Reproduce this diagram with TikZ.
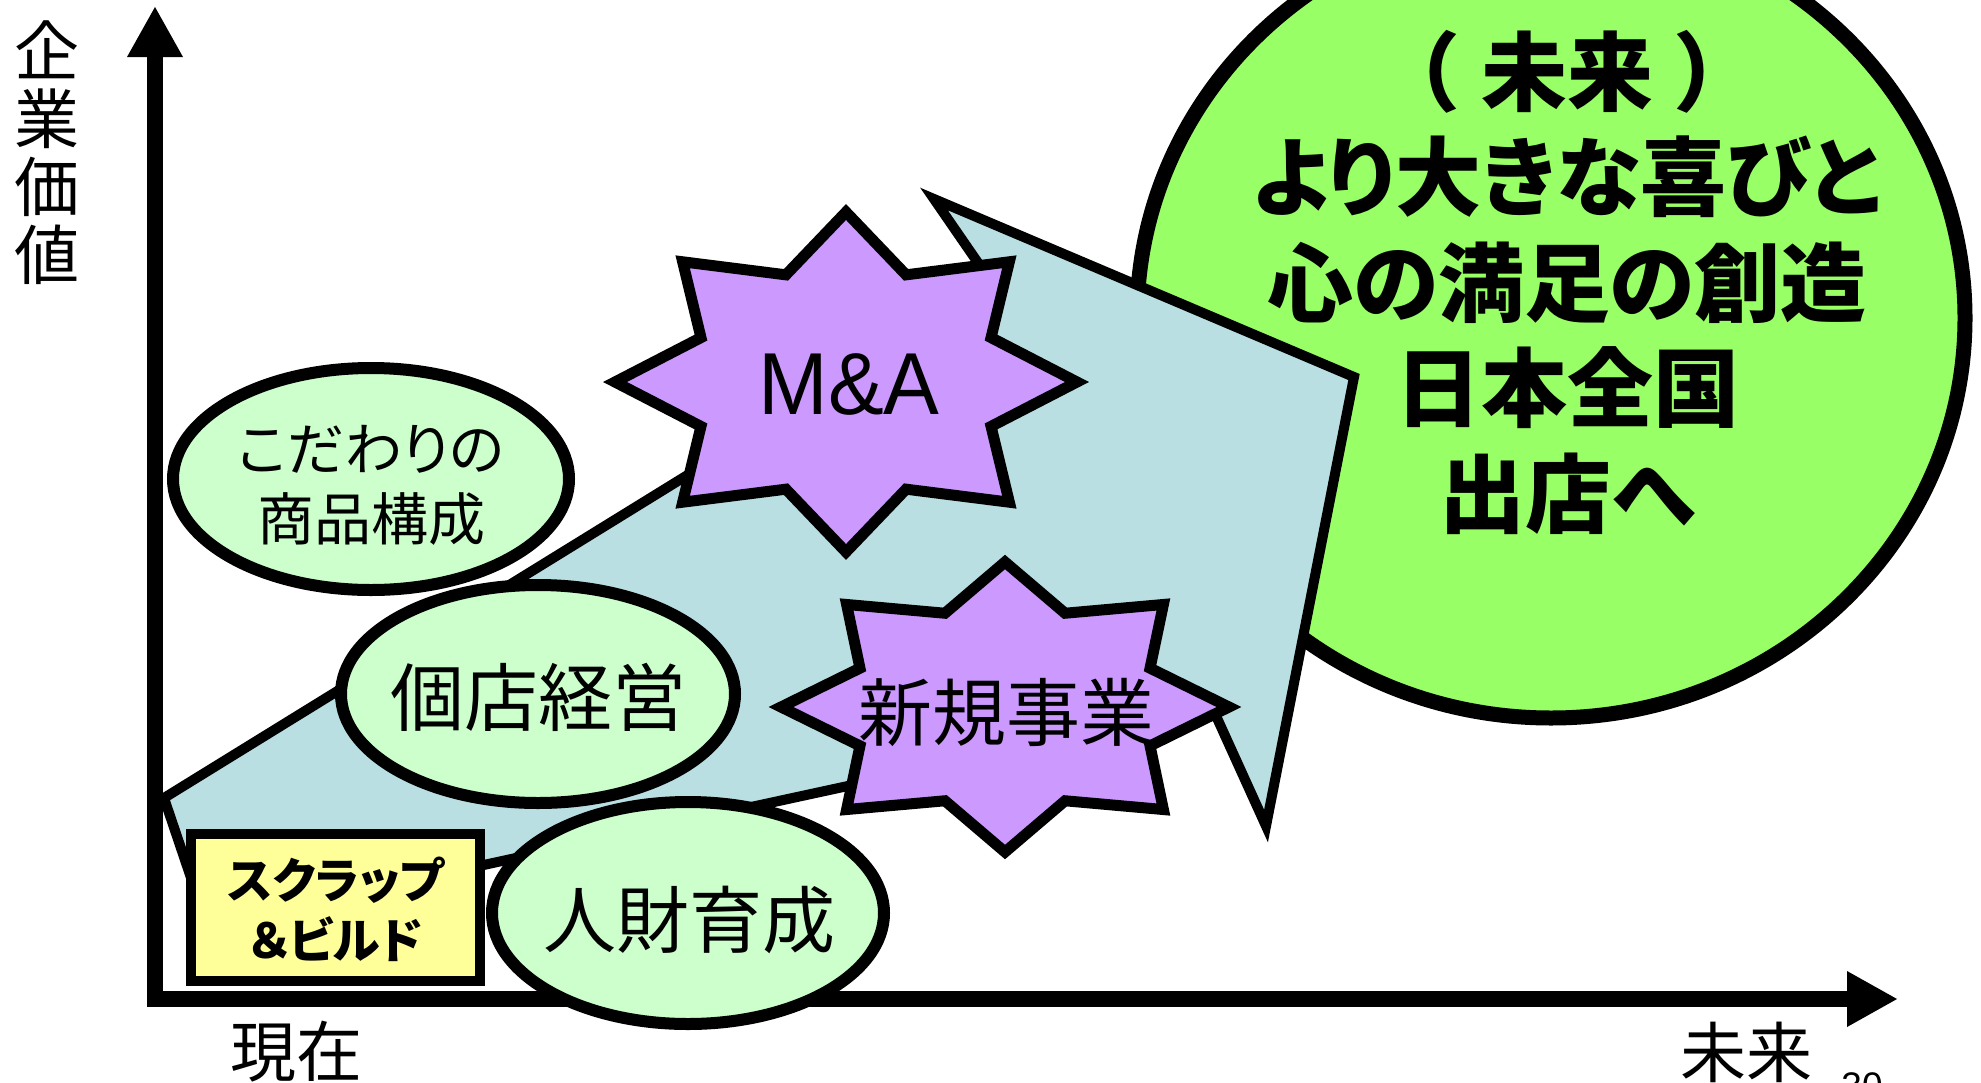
\documentclass[tikz,border=0pt]{standalone}
\usepackage{fontspec}
\newfontfamily\jp{Noto Sans CJK JP}
\newfontfamily\jpp[RawFeature=+palt]{Noto Sans CJK JP}
\newfontfamily\lat{Liberation Sans}
\usetikzlibrary{shapes.geometric,arrows.meta}
\definecolor{arrowblue}{HTML}{B9DFE3}
\definecolor{lightgreen}{HTML}{CCFFCC}
\definecolor{brightgreen}{HTML}{99FF66}
\definecolor{starpurple}{HTML}{CC99FF}
\definecolor{boxyellow}{HTML}{FFFF99}
\begin{document}
\begin{tikzpicture}[x=0.5pt,y=-0.5pt,
  axisline/.style={line width=8pt, line join=miter},
  bluearrow/.style={draw=black, fill=arrowblue, line width=5pt, line join=miter},
  greenell/.style={ellipse, draw=black, fill=lightgreen, line width=6pt, inner sep=0pt},
  starsty/.style={draw=black, fill=starpurple, line width=5.5pt, line join=miter},
  futurecirc/.style={ellipse, draw=black, fill=brightgreen, line width=7.5pt, inner sep=0pt},
  sbbox/.style={rectangle, draw=black, fill=boxyellow, line width=5pt, inner sep=0pt},
  lbl/.style={inner sep=0pt, align=center}
]
\useasboundingbox (0,0) rectangle (1981,1082);

% axes
\coordinate (ytip) at (155,6);
\coordinate (origin) at (155,999);
\coordinate (xtip) at (1898,999);
\draw[axisline, {Triangle[length=25.5pt,width=26pt]}-{Triangle[length=25.5pt,width=26pt]}] (ytip) -- (origin) -- (xtip);

\node[lbl, font=\jp\fontsize{32.5pt}{34pt}\selectfont] (yl) at (47,153) {企\\業\\価\\値};
\node[lbl, font=\jp\fontsize{33pt}{36pt}\selectfont] (now) at (296,1052) {現在};
\node[lbl, font=\jp\fontsize{33pt}{36pt}\selectfont] (fut) at (1746,1052) {未来};
\node[lbl, anchor=north, font=\lat\fontsize{18.5pt}{20pt}\selectfont] (pagenum) at (1862,1072) {30};

% future circle
\node[futurecirc, minimum width=414pt, minimum height=400pt] (future) at (1551,318) {};
\node[lbl, font=\jpp\bfseries\fontsize{43pt}{52.75pt}\selectfont] (futuretext) at (1567,282)
  {（\hspace{12pt}未来\hspace{12pt}）\\より大きな喜びと\\心の満足の創造\\日本全国\\出店へ};

% big arrow
\draw[bluearrow] (164,798) -- (207,925) -- (1212,707) -- (1266,826) -- (1354,377) -- (934,199) -- (994,286) -- cycle;

% ellipses
\node[greenell, minimum width=198pt, minimum height=111pt] (koda) at (371,479) {};
\node[lbl, font=\jpp\fontsize{28.5pt}{35pt}\selectfont] (kodat) at (371,485) {こだわりの\\商品構成};
\node[greenell, minimum width=197pt, minimum height=109pt] (koten) at (538,694) {};
\node[lbl, font=\jp\fontsize{37pt}{40pt}\selectfont] (kotent) at (538,697) {個店経営};
\node[greenell, minimum width=196pt, minimum height=111pt] (jinzai) at (688,913) {};
\node[lbl, font=\jp\fontsize{36.5pt}{40pt}\selectfont] (jinzait) at (689,920) {人財育成};

% scrap & build box
\node[sbbox, minimum width=144.5pt, minimum height=73.5pt] (sb) at (335,907) {};
\node[lbl, font=\jpp\bfseries\fontsize{24pt}{30pt}\selectfont] (sbt) at (336,909) {スクラップ\\＆ビルド};

% stars
\begin{scope}[shift={(846,382)}]
\draw[starsty] (0:231 and 170) \foreach \a in {22.5,67.5,...,337.5} { -- (\a:157 and 116) -- (\a+22.5:231 and 170) } -- cycle;
\end{scope}
\node[lbl, font=\lat\fontsize{44pt}{48pt}\selectfont, xscale=0.95] (ma) at (849,384) {M\&A};

\begin{scope}[shift={(1005,707)}]
\draw[starsty] (0:224 and 145) \foreach \a in {22.5,67.5,...,337.5} { -- (\a:157 and 101.5) -- (\a+22.5:224 and 145) } -- cycle;
\end{scope}
\node[lbl, font=\jp\fontsize{37pt}{40pt}\selectfont] (shinki) at (1006,712) {新規事業};
\end{tikzpicture}
\end{document}
